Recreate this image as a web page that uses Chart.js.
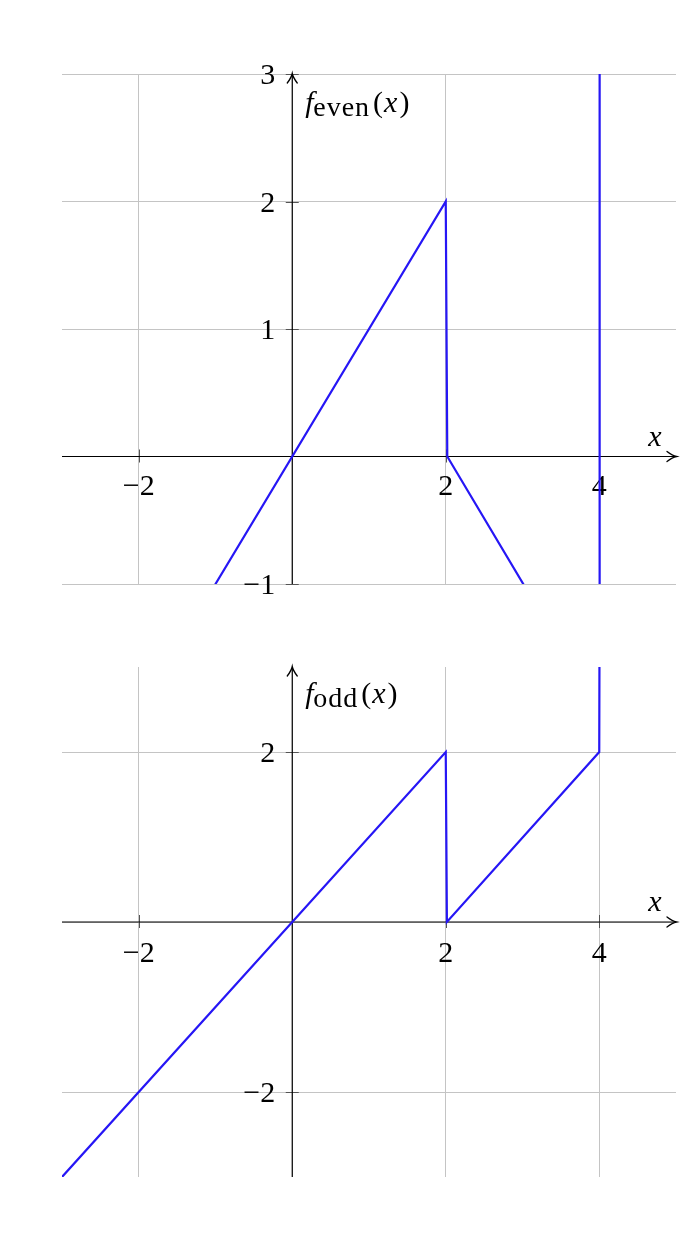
<!DOCTYPE html>
<html>
<head>
<meta charset="utf-8">
<script src="https://cdn.jsdelivr.net/npm/chart.js@4/dist/chart.umd.min.js"></script>
<style>
  html, body { margin: 0; padding: 0; background: #fff; }
  #page { position: relative; width: 695px; height: 1239px; }
  .box { position: absolute; left: 0; width: 695px; }
</style>
</head>
<body>
<div id="page">
  <div class="box" style="top:0;height:620px"><canvas id="evenChart" width="695" height="620"></canvas></div>
  <div class="box" style="top:620px;height:619px"><canvas id="oddChart" width="695" height="619"></canvas></div>
</div>
<script>
// datos de las dos curvas
const evenX = [-3, 2, 2.02, 4, 4.005];
const evenY = [-3, 2, 0, -2, 6];
const oddX = [-3, 2, 2.015, 4, 4.01];
const oddY = [-3, 2, 0, 2, 6];

// ticks y etiquetas
const xTicks = [-2, 0, 2, 4];
const xTickLabels = ['\u22122', '', '2', '4'];
const evenYTicks = [-1, 0, 1, 2, 3];
const evenYTickLabels = ['\u22121', '', '1', '2', '3'];
const oddYTicks = [-2, 0, 2];
const oddYTickLabels = ['\u22122', '', '2'];

const LINE_BLUE = 'rgb(38, 22, 245)';
const SERIF = "'Liberation Serif', 'DejaVu Serif', serif";

// flecha tipo "to" de pgfplots
function arrowHead(ctx, x, y, dir) {
  ctx.save();
  ctx.translate(x, y);
  ctx.rotate(dir);
  ctx.lineWidth = 1.3;
  ctx.lineCap = 'round';
  ctx.beginPath();
  ctx.moveTo(-9, -5);
  ctx.quadraticCurveTo(-3.5, -0.8, 0.5, 0);
  ctx.quadraticCurveTo(-3.5, 0.8, -9, 5);
  ctx.stroke();
  ctx.restore();
}

// ejes centrados, marcas y textos
const axesPlugin = {
  id: 'axes',
  beforeDatasetsDraw(chart, args, opts) {
    const { ctx, chartArea: a, scales: { x, y } } = chart;
    const x0 = x.getPixelForValue(0);
    const y0 = y.getPixelForValue(0);
    ctx.save();

    // marcas de los ticks
    ctx.strokeStyle = '#555';
    ctx.lineWidth = 1;
    opts.xTicks.forEach((v, i) => {
      if (!opts.xLabels[i]) return;
      const px = Math.round(x.getPixelForValue(v)) + 0.5;
      ctx.beginPath();
      ctx.moveTo(px, y0 - 7);
      ctx.lineTo(px, y0 + 6);
      ctx.stroke();
    });
    opts.yTicks.forEach((v, i) => {
      if (!opts.yLabels[i]) return;
      const py = Math.round(y.getPixelForValue(v)) + 0.5;
      ctx.beginPath();
      ctx.moveTo(x0 - 6.5, py);
      ctx.lineTo(x0 + 6.5, py);
      ctx.stroke();
    });

    // ejes
    ctx.strokeStyle = '#000';
    ctx.lineWidth = 1.2;
    ctx.beginPath();
    ctx.moveTo(a.left, y0);
    ctx.lineTo(a.right - 1, y0);
    ctx.moveTo(x0, a.bottom);
    ctx.lineTo(x0, a.top + 1);
    ctx.stroke();
    arrowHead(ctx, a.right, y0, 0);
    arrowHead(ctx, x0, a.top, -Math.PI / 2);

    // etiquetas de los ticks
    ctx.fillStyle = '#000';
    ctx.font = '30px ' + SERIF;
    ctx.textBaseline = 'alphabetic';
    ctx.textAlign = 'center';
    opts.xTicks.forEach((v, i) => {
      if (!opts.xLabels[i]) return;
      ctx.fillText(opts.xLabels[i], x.getPixelForValue(v), y0 + opts.xLabelDy);
    });
    ctx.textAlign = 'right';
    opts.yTicks.forEach((v, i) => {
      if (!opts.yLabels[i]) return;
      ctx.fillText(opts.yLabels[i], x0 - 17, y.getPixelForValue(v) + 10);
    });

    // etiqueta del eje x
    ctx.textAlign = 'center';
    ctx.font = 'italic 30px ' + SERIF;
    ctx.fillText('x', a.right - 21, y0 - 11);

    // etiqueta del eje y: f_sub(x)
    ctx.textAlign = 'left';
    let cx = x0 + 13;
    const base = a.top + opts.titleDy;
    ctx.font = 'italic 30px ' + SERIF;
    ctx.fillText('f', cx, base);
    cx = x0 + 21;
    ctx.font = '28px ' + SERIF;
    ctx.letterSpacing = '1px';
    ctx.fillText(opts.sub, cx, base + 4);
    cx += ctx.measureText(opts.sub).width + 3;
    ctx.letterSpacing = '0px';
    ctx.font = '30px ' + SERIF;
    ctx.fillText('(', cx, base);
    cx += ctx.measureText('(').width + 1;
    ctx.font = 'italic 30px ' + SERIF;
    ctx.fillText('x', cx, base);
    cx += ctx.measureText('x').width + 2;
    ctx.font = '30px ' + SERIF;
    ctx.fillText(')', cx, base);

    ctx.restore();
  }
};

function makeChart(id, xs, ys, yTicks, yLabels, yMin, yMax, padding, sub, titleDy, xLabelDy) {
  const ctx = document.getElementById(id).getContext('2d');
  return new Chart(ctx, {
    type: 'scatter',
    data: {
      datasets: [{
        data: xs.map((v, i) => ({ x: v, y: ys[i] })),
        showLine: true,
        borderColor: LINE_BLUE,
        borderWidth: 2.2,
        pointRadius: 0,
        tension: 0,
        fill: false
      }]
    },
    options: {
      responsive: false,
      animation: false,
      devicePixelRatio: 1,
      layout: { padding: padding },
      plugins: {
        legend: { display: false },
        tooltip: { enabled: false },
        axes: {
          xTicks: xTicks, xLabels: xTickLabels,
          yTicks: yTicks, yLabels: yLabels,
          sub: sub, titleDy: titleDy, xLabelDy: xLabelDy
        }
      },
      scales: {
        x: {
          type: 'linear',
          min: -3,
          max: 5,
          position: { y: 0 },
          afterBuildTicks: s => { s.ticks = xTicks.map(v => ({ value: v })); },
          ticks: { display: false },
          grid: { color: '#c4c4c4', lineWidth: 1, drawTicks: false },
          border: { display: false }
        },
        y: {
          type: 'linear',
          min: yMin,
          max: yMax,
          position: { x: 0 },
          afterBuildTicks: s => { s.ticks = yTicks.map(v => ({ value: v })); },
          ticks: { display: false },
          grid: { color: '#c4c4c4', lineWidth: 1, drawTicks: false },
          border: { display: false }
        }
      }
    },
    plugins: [axesPlugin]
  });
}

makeChart('evenChart', evenX, evenY, evenYTicks, evenYTickLabels, -1, 3,
  { left: 62, right: 19, top: 74, bottom: 36 }, 'even', 38, 38);
makeChart('oddChart', oddX, oddY, oddYTicks, oddYTickLabels, -3, 3,
  { left: 62, right: 19, top: 47, bottom: 62 }, 'odd', 36, 40);
</script>
</body>
</html>
